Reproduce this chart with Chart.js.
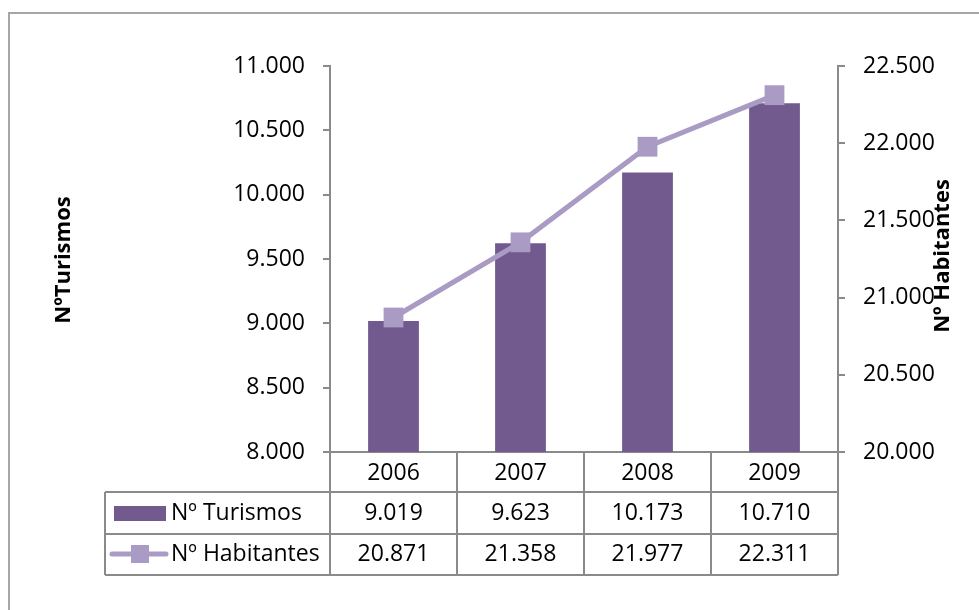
<!DOCTYPE html>
<html>
<head>
<meta charset="utf-8">
<script src="https://cdn.jsdelivr.net/npm/chart.js@4.4.1/dist/chart.umd.min.js"></script>
<style>
  html, body { margin: 0; padding: 0; background: #ffffff; }
  #wrap { width: 979px; height: 610px; }
</style>
</head>
<body>
<div id="wrap"><canvas id="grafico" width="979" height="610"></canvas></div>
<script>
// datos
const years = ["2006", "2007", "2008", "2009"];
const turismos = [9019, 9623, 10173, 10710];
const habitantes = [20871, 21358, 21977, 22311];
const leftTicks = [8000, 11000, 500];   // min, max, paso
const rightTicks = [20000, 22500, 500];

const BAR_COLOR = "#725a8f";
const LINE_COLOR = "#a99bc4";
const GRID_COLOR = "#8a8a8a";
const FONT = "'Open Sans'";

// separador de miles con punto
function fmt(n) {
  return String(n).replace(/\B(?=(\d{3})+(?!\d))/g, ".");
}

// tabla de datos debajo del eje, marco y títulos de los ejes
const tablaPlugin = {
  id: "tablaDatos",
  afterDraw(chart) {
    const ctx = chart.ctx;
    const x = chart.scales.x;
    const area = chart.chartArea;
    const colW = (area.right - area.left) / years.length;
    const top = area.bottom;
    const rowH = [40, 42, 41];
    const r1 = top + rowH[0];
    const r2 = r1 + rowH[1];
    const r3 = r2 + rowH[2];
    const legLeft = 105;

    ctx.save();
    // marco exterior
    ctx.strokeStyle = "#a6a6a6";
    ctx.lineWidth = 2;
    ctx.beginPath();
    ctx.moveTo(9, 615);
    ctx.lineTo(9, 13);
    ctx.lineTo(985, 13);
    ctx.stroke();

    // líneas de la tabla
    ctx.strokeStyle = GRID_COLOR;
    ctx.lineWidth = 2;
    ctx.beginPath();
    for (let i = 0; i <= years.length; i++) {
      const cx = Math.round(area.left + i * colW);
      ctx.moveTo(cx, top);
      ctx.lineTo(cx, r3);
    }
    [r1, r2, r3].forEach((ry) => {
      ctx.moveTo(legLeft, ry);
      ctx.lineTo(area.right, ry);
    });
    ctx.moveTo(legLeft, r1);
    ctx.lineTo(legLeft, r3);
    ctx.stroke();

    // claves de la leyenda
    ctx.fillStyle = BAR_COLOR;
    ctx.fillRect(114, r1 + 14, 52, 15);
    ctx.strokeStyle = LINE_COLOR;
    ctx.lineWidth = 5;
    ctx.lineCap = "round";
    ctx.beginPath();
    ctx.moveTo(112, r2 + 20);
    ctx.lineTo(166, r2 + 20);
    ctx.stroke();
    ctx.fillStyle = LINE_COLOR;
    ctx.fillRect(131, r2 + 11, 18, 18);

    // textos de la tabla
    ctx.fillStyle = "#000000";
    ctx.font = "23px " + FONT;
    ctx.textBaseline = "middle";
    ctx.textAlign = "left";
    ctx.fillText(chart.data.datasets[1].label, 171, (r1 + r2) / 2);
    ctx.fillText(chart.data.datasets[0].label, 171, (r2 + r3) / 2);
    ctx.textAlign = "center";
    years.forEach((y, i) => {
      const cx = x.getPixelForValue(i);
      ctx.fillText(fmt(turismos[i]), cx, (r1 + r2) / 2);
      ctx.fillText(fmt(habitantes[i]), cx, (r2 + r3) / 2);
    });

    // títulos de los ejes
    ctx.font = "bold 22px " + FONT;
    ctx.translate(64, 260);
    ctx.rotate(-Math.PI / 2);
    ctx.fillText("NºTurismos", 0, 0);
    ctx.setTransform(1, 0, 0, 1, 0, 0);
    ctx.translate(943, 256);
    ctx.rotate(-Math.PI / 2);
    ctx.fillText("Nº Habitantes", 0, 0);
    ctx.restore();
  }
};

const axisTicks = { color: "#000000", font: { family: FONT, size: 23 }, padding: 18 };

new Chart(document.getElementById("grafico"), {
  type: "bar",
  data: {
    labels: years,
    datasets: [
      {
        type: "line",
        label: "Nº Habitantes",
        data: habitantes,
        yAxisID: "y2",
        borderColor: LINE_COLOR,
        backgroundColor: LINE_COLOR,
        borderWidth: 5,
        pointStyle: "rect",
        pointRadius: 14,
        pointHoverRadius: 14,
        pointBorderWidth: 0,
        tension: 0,
        order: 0
      },
      {
        type: "bar",
        label: "Nº Turismos",
        data: turismos,
        yAxisID: "y",
        backgroundColor: BAR_COLOR,
        barPercentage: 0.4,
        categoryPercentage: 1,
        order: 1
      }
    ]
  },
  options: {
    responsive: false,
    animation: false,
    events: [],
    layout: { padding: { top: 66, bottom: 118, left: 0, right: 0 } },
    plugins: {
      legend: { display: false },
      tooltip: { enabled: false },
      title: { display: false }
    },
    scales: {
      x: {
        grid: { display: false, drawTicks: false },
        border: { display: true, color: GRID_COLOR, width: 2 },
        ticks: { color: "#000000", font: { family: FONT, size: 23 }, padding: 8, maxRotation: 0 },
        afterFit: (s) => { s.height = 40; }
      },
      y: {
        position: "left",
        min: leftTicks[0],
        max: leftTicks[1],
        ticks: Object.assign({ stepSize: leftTicks[2], callback: (v) => fmt(v) }, axisTicks),
        grid: { drawOnChartArea: false, tickLength: 7, color: GRID_COLOR, lineWidth: 2 },
        border: { color: GRID_COLOR, width: 2 },
        afterFit: (s) => { s.width = 330; }
      },
      y2: {
        position: "right",
        min: rightTicks[0],
        max: rightTicks[1],
        ticks: Object.assign({ stepSize: rightTicks[2], callback: (v) => fmt(v) }, axisTicks),
        grid: { drawOnChartArea: false, tickLength: 7, color: GRID_COLOR, lineWidth: 2 },
        border: { color: GRID_COLOR, width: 2 },
        afterFit: (s) => { s.width = 141; }
      }
    }
  },
  plugins: [tablaPlugin]
});
</script>
</body>
</html>
